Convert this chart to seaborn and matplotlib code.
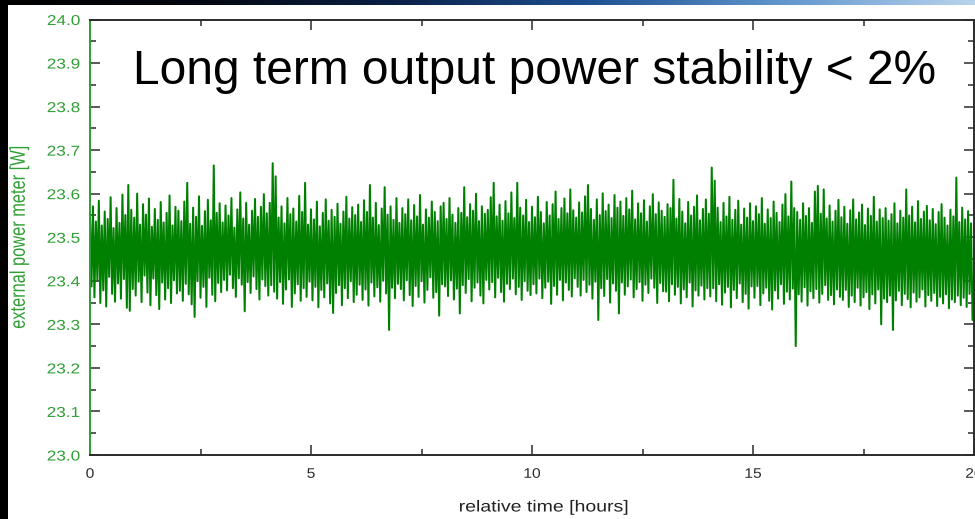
import numpy as np
import pandas as pd
import matplotlib
matplotlib.use("Agg")
import matplotlib.pyplot as plt
import seaborn as sns
from matplotlib.colors import LinearSegmentedColormap
from matplotlib.patches import Rectangle
from matplotlib.patheffects import AbstractPathEffect
from matplotlib.ticker import MultipleLocator
from matplotlib.transforms import Affine2D

# ---------------------------------------------------------------- data
SAMPLES_PER_HOUR = 30
BASE_W = 23.0

# power meter readings, mW above 23 W, one list per hour of the run
hour_00 = [548, 387, 571, 362, 536, 401, 584, 349, 527, 378, 559, 341, 542, 409, 592,
           370, 521, 352, 567, 394, 533, 359, 598, 404, 551, 338, 620, 331, 563, 381]
hour_01 = [545, 366, 600, 398, 529, 351, 576, 412, 552, 373, 589, 344, 524, 405, 565,
           367, 540, 335, 581, 396, 534, 357, 556, 383, 596, 349, 527, 401, 570, 371]
hour_02 = [561, 377, 537, 354, 582, 393, 625, 369, 531, 346, 568, 317, 547, 399, 594,
           361, 526, 386, 560, 340, 586, 407, 539, 368, 665, 353, 556, 395, 578, 374]
hour_03 = [534, 402, 573, 378, 550, 414, 590, 383, 522, 363, 564, 406, 603, 391, 543,
           330, 579, 397, 529, 372, 561, 410, 588, 381, 547, 357, 570, 403, 599, 388]
hour_04 = [555, 366, 579, 390, 670, 375, 640, 359, 545, 397, 571, 347, 532, 380, 590,
           403, 553, 340, 566, 371, 536, 392, 595, 354, 558, 383, 625, 363, 529, 398]
hour_05 = [564, 355, 541, 386, 582, 339, 525, 379, 556, 362, 587, 394, 538, 348, 563,
           326, 547, 372, 577, 390, 531, 344, 559, 383, 593, 360, 543, 399, 569, 351]
hour_06 = [551, 368, 575, 391, 535, 356, 585, 380, 558, 343, 620, 396, 545, 364, 579,
           385, 528, 352, 566, 400, 615, 371, 552, 287, 571, 384, 540, 360, 590, 393]
hour_07 = [533, 381, 567, 355, 553, 401, 587, 367, 539, 342, 574, 388, 548, 363, 597,
           399, 529, 350, 564, 379, 545, 408, 582, 361, 558, 374, 537, 320, 571, 392]
hour_08 = [579, 387, 542, 365, 590, 401, 552, 357, 533, 382, 567, 325, 556, 390, 615,
           372, 546, 404, 576, 353, 561, 384, 600, 396, 537, 366, 571, 348, 554, 402]
hour_09 = [563, 380, 592, 397, 625, 362, 548, 407, 575, 374, 538, 352, 583, 393, 555,
           381, 603, 405, 544, 369, 625, 386, 568, 356, 550, 399, 586, 377, 535, 367]
hour_10 = [570, 392, 546, 371, 593, 405, 558, 360, 532, 384, 581, 398, 550, 347, 576,
           388, 605, 368, 542, 402, 567, 355, 589, 396, 555, 379, 610, 364, 562, 406]
hour_11 = [545, 386, 580, 366, 557, 402, 594, 374, 620, 391, 565, 359, 540, 398, 587,
           310, 551, 383, 601, 365, 560, 404, 575, 350, 544, 394, 597, 377, 568, 325]
hour_12 = [582, 396, 549, 368, 590, 387, 564, 403, 607, 362, 541, 381, 578, 397, 555,
           354, 585, 391, 536, 372, 571, 405, 599, 384, 553, 349, 580, 395, 561, 376]
hour_13 = [547, 375, 576, 353, 567, 392, 632, 368, 543, 386, 588, 348, 559, 380, 532,
           362, 581, 396, 550, 341, 570, 378, 596, 366, 539, 389, 565, 357, 587, 383]
hour_14 = [554, 364, 660, 383, 630, 353, 568, 392, 535, 345, 579, 373, 548, 386, 593,
           339, 540, 379, 563, 360, 584, 394, 529, 351, 566, 370, 545, 336, 578, 387]
hour_15 = [537, 361, 571, 388, 553, 344, 590, 371, 531, 384, 564, 354, 544, 334, 582,
           378, 556, 359, 535, 392, 575, 347, 599, 375, 548, 357, 628, 382, 567, 250]
hour_16 = [558, 369, 540, 352, 578, 385, 549, 343, 567, 376, 533, 360, 605, 381, 618,
           350, 554, 370, 610, 390, 543, 356, 573, 367, 536, 346, 561, 380, 586, 363]
hour_17 = [546, 356, 570, 379, 531, 340, 562, 366, 587, 351, 541, 384, 557, 343, 575,
           362, 528, 374, 566, 335, 549, 369, 593, 348, 536, 380, 564, 300, 544, 359]
hour_18 = [567, 351, 538, 366, 553, 287, 578, 355, 532, 377, 561, 344, 545, 370, 610,
           358, 550, 339, 570, 373, 534, 352, 583, 362, 542, 380, 559, 341, 572, 367]
hour_19 = [539, 354, 565, 372, 530, 342, 558, 363, 576, 348, 545, 369, 527, 337, 563,
           357, 548, 351, 637, 366, 535, 344, 568, 361, 541, 340, 560, 370, 532, 310]

x_ticks = [0, 5, 10, 15, 20]
y_ticks = [23.0, 23.1, 23.2, 23.3, 23.4, 23.5, 23.6, 23.7, 23.8, 23.9, 24.0]
y_tick_labels = [f"{v:.1f}" for v in y_ticks]

TITLE = "Long term output power stability < 2%"
X_LABEL = "relative time [hours]"
Y_LABEL = "external power meter [W]"

readings_mw = np.concatenate([
    hour_00, hour_01, hour_02, hour_03, hour_04, hour_05, hour_06, hour_07,
    hour_08, hour_09, hour_10, hour_11, hour_12, hour_13, hour_14, hour_15,
    hour_16, hour_17, hour_18, hour_19,
])
power_w = BASE_W + readings_mw / 1000.0
time_h = np.arange(len(power_w)) / SAMPLES_PER_HOUR
df = pd.DataFrame({X_LABEL: time_h, Y_LABEL: power_w})

# ---------------------------------------------------------------- style
LINE_GREEN = "#008000"
AXIS_GREEN = "#2f9e35"
DARK = "#2b2b2b"

sns.set_theme(style="ticks")
plt.rcParams["font.family"] = ["Liberation Sans", "DejaVu Sans"]


class WideText(AbstractPathEffect):
    """Stretch glyphs horizontally on screen (the graph labels are set wide)."""

    def __init__(self, sx=1.2, anchor="center", vertical=False):
        super().__init__()
        self._sx = sx
        self._anchor = anchor
        self._vertical = vertical

    def draw_path(self, renderer, gc, tpath, affine, rgbFace=None):
        ext = tpath.get_extents()
        if self._vertical:
            c = 0.5 * (ext.y0 + ext.y1)
            st = Affine2D().translate(0, -c).scale(1, self._sx).translate(0, c)
        else:
            c = ext.x1 if self._anchor == "right" else 0.5 * (ext.x0 + ext.x1)
            st = Affine2D().translate(-c, 0).scale(self._sx, 1).translate(c, 0)
        renderer.draw_path(gc, tpath, st + affine, rgbFace)


W, H = 975, 519
fig = plt.figure(figsize=(W / 100, H / 100), dpi=100, facecolor="white")

# dark slide border: black strip on the left, star-field blue along the top
grad = np.linspace(0, 1, 512).reshape(1, -1)
strip_cmap = LinearSegmentedColormap.from_list(
    "strip", ["#000000", "#03070f", "#0a1f45", "#1c4f8f", "#5f95cc", "#b9d3ee"])
top_ax = fig.add_axes([0, 1 - 5 / H, 1, 5 / H])
top_ax.imshow(grad, aspect="auto", cmap=strip_cmap)
top_ax.set_axis_off()
fig.add_artist(Rectangle((0, 0), 8 / W, 1, transform=fig.transFigure,
                         facecolor="black", edgecolor="none", zorder=5))

left_px, right_px, top_px, bottom_px = 90, 974, 19.5, 455
ax = fig.add_axes([left_px / W, 1 - bottom_px / H,
                   (right_px - left_px) / W, (bottom_px - top_px) / H])
ax.set_facecolor("white")

sns.lineplot(data=df, x=X_LABEL, y=Y_LABEL, ax=ax, color=LINE_GREEN,
             linewidth=1.45, estimator=None, sort=False, legend=False)

ax.set_xlim(0, 20)
ax.set_ylim(23.0, 24.0)
ax.set_xticks(x_ticks)
ax.set_xticklabels([str(v) for v in x_ticks])
ax.set_yticks(y_ticks)
ax.set_yticklabels(y_tick_labels)
ax.xaxis.set_minor_locator(MultipleLocator(2.5))
ax.yaxis.set_minor_locator(MultipleLocator(0.05))

for side in ("top", "right", "bottom"):
    ax.spines[side].set_color(DARK)
    ax.spines[side].set_linewidth(1.4)
ax.spines["left"].set_color(AXIS_GREEN)
ax.spines["left"].set_linewidth(1.4)

ax.tick_params(axis="both", which="both", direction="in", top=True, right=True)
ax.tick_params(axis="both", which="major", length=7.2, width=1.1)
ax.tick_params(axis="both", which="minor", length=4.3, width=1.1)
ax.tick_params(axis="x", which="both", colors=DARK, labelsize=10, pad=8.5)
ax.tick_params(axis="y", which="both", colors=DARK, labelsize=10.3, pad=7.2,
               labelcolor=AXIS_GREEN)
# left-side ticks are green, right-side ticks stay dark
for t in ax.yaxis.get_major_ticks() + ax.yaxis.get_minor_ticks():
    t.tick1line.set_color(AXIS_GREEN)
    t.tick2line.set_color(DARK)

for lab in ax.get_xticklabels():
    lab.set_path_effects([WideText(1.12)])
for lab in ax.get_yticklabels():
    lab.set_path_effects([WideText(1.2, anchor="right")])

ax.set_xlabel(X_LABEL, fontsize=11.5, color="#222222", va="center",
              path_effects=[WideText(1.22)])
ax.xaxis.set_label_coords((544 - left_px) / (right_px - left_px),
                          (bottom_px - 507) / (bottom_px - top_px))
ax.set_ylabel(Y_LABEL, fontsize=11.8, color=AXIS_GREEN, va="center",
              path_effects=[WideText(1.3, vertical=True)])
ax.yaxis.set_label_coords((19 - left_px) / (right_px - left_px), 0.5)

ax.text((133 - left_px) / (right_px - left_px),
        (bottom_px - 84.5) / (bottom_px - top_px),
        TITLE, transform=ax.transAxes, ha="left", va="baseline",
        fontsize=34.5, color="black")

fig.savefig("out.png", dpi=100, facecolor="white")
